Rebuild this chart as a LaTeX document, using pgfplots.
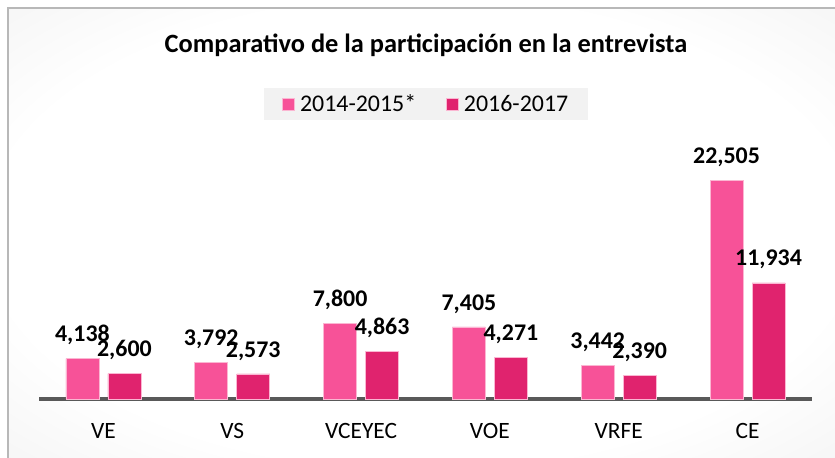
\documentclass[border=0pt]{standalone}
\usepackage{pgfplots}
\pgfplotsset{compat=1.18}
\usepackage{fontspec}
\setmainfont{Carlito}
\definecolor{cA}{RGB}{247,82,152}
\definecolor{cB}{RGB}{224,35,110}
\definecolor{cEdge}{RGB}{251,182,210}
\pgfdeclareradialshading{bgshade}{\pgfpoint{0bp}{0bp}}{color(0bp)=(white); color(26bp)=(white); color(48bp)=(black!8); color(71bp)=(black!24)}
\begin{document}
\begin{tikzpicture}
\useasboundingbox (0,0) rectangle (835bp,458bp);
\fill[white] (0,0) rectangle (835bp,458bp);
\shade[shading=bgshade] (8bp,0) rectangle (835bp,450bp);
\draw[black!28, line width=1.2bp] (8bp,0) -- (8bp,450bp) -- (835bp,450bp);
\node[font=\fontsize{26.5}{30}\selectfont\bfseries] at (426bp,413bp) {Comparativo de la participación en la entrevista};
\begin{axis}[
  at={(39bp,59bp)}, anchor=south west,
  scale only axis, width=773bp, height=259bp,
  ybar=9bp, bar width=33bp,
  xmin=-0.5, xmax=5.5, ymin=0, ymax=26620,
  xtick=data, xticklabels={VE,VS,VCEYEC,VOE,VRFE,CE},
  xticklabel style={font=\fontsize{23.5}{27}\selectfont, yshift=-19bp},
  xtick style={draw=none},
  hide y axis,
  axis x line=bottom,
  x axis line style={-, draw=black!65, line width=3bp},
  clip=false,
  nodes near coords,
  every node near coord/.append style={font=\fontsize{24}{28}\selectfont\bfseries, text=black, /pgf/number format/assume math mode=true, /pgf/number format/1000 sep={,}, yshift=10bp},
  legend style={fill=black!5, draw=none, at={(0.501,1.139)}, anchor=center,
    font=\fontsize{24}{28}\selectfont, inner xsep=18bp, inner ysep=5bp,
    /tikz/every odd column/.append style={column sep=3bp},
    /tikz/every even column/.append style={column sep=28bp}},
  legend columns=2,
  legend image code/.code={\fill[#1] (0bp,-6bp) rectangle (12bp,6bp);},
]
\addplot[fill=cA, draw=cEdge, line width=0.75bp] coordinates {(0,4138) (1,3792) (2,7800) (3,7405) (4,3442) (5,22505)};
\addplot[fill=cB, draw=cEdge, line width=0.75bp] coordinates {(0,2600) (1,2573) (2,4863) (3,4271) (4,2390) (5,11934)};
\legend{2014-2015*,2016-2017}
\end{axis}
\end{tikzpicture}
\end{document}
